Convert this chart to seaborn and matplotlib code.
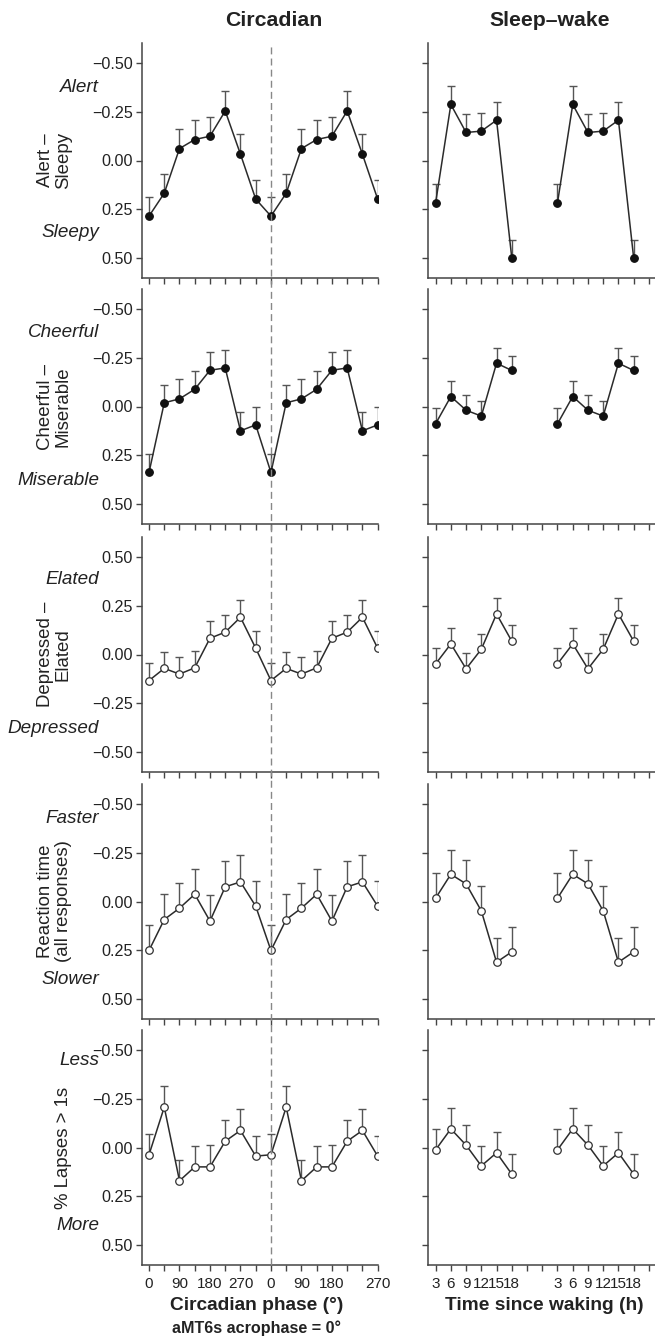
"""
Mood and performance by circadian phase and time awake (double plotted).
"""

import numpy as np
import pandas as pd
import matplotlib
matplotlib.use('Agg')
import matplotlib.pyplot as plt
import matplotlib.transforms as mtransforms
from matplotlib.lines import Line2D
from matplotlib.ticker import FuncFormatter
import seaborn as sns

# ---- data ----
circ_phase = [0, 45, 90, 135, 180, 225, 270, 315]        # degrees
wake_hours = [3, 6, 9, 12, 15, 18]                        # h since waking

alert_circ = [0.284, 0.167, -0.061, -0.107, -0.124, -0.253, -0.032, 0.197]
alert_circ_err = [0.099, 0.099, 0.099, 0.099, 0.099, 0.102, 0.102, 0.097]
alert_wake = [0.216, -0.286, -0.143, -0.150, -0.206, 0.498]
alert_wake_err = [0.094, 0.094, 0.095, 0.095, 0.095, 0.092]

cheer_circ = [0.337, -0.019, -0.039, -0.088, -0.185, -0.197, 0.124, 0.094]
cheer_circ_err = [0.097, 0.092, 0.099, 0.092, 0.092, 0.092, 0.095, 0.092]
cheer_wake = [0.088, -0.051, 0.019, 0.049, -0.221, -0.184]
cheer_wake_err = [0.078, 0.077, 0.079, 0.077, 0.077, 0.076]

elated_circ = [-0.133, -0.071, -0.100, -0.068, 0.083, 0.114, 0.190, 0.032]
elated_circ_err = [0.089, 0.086, 0.085, 0.087, 0.087, 0.088, 0.090, 0.087]
elated_wake = [-0.048, 0.054, -0.073, 0.027, 0.207, 0.068]
elated_wake_err = [0.080, 0.080, 0.081, 0.080, 0.082, 0.082]

rt_circ = [0.250, 0.092, 0.034, -0.037, 0.100, -0.075, -0.100, 0.024]
rt_circ_err = [0.131, 0.129, 0.131, 0.131, 0.134, 0.132, 0.135, 0.129]
rt_wake = [-0.017, -0.139, -0.090, 0.048, 0.310, 0.257]
rt_wake_err = [0.128, 0.125, 0.124, 0.125, 0.126, 0.127]

lapse_circ = [0.037, -0.206, 0.170, 0.099, 0.099, -0.032, -0.087, 0.044]
lapse_circ_err = [0.105, 0.108, 0.107, 0.106, 0.111, 0.107, 0.112, 0.105]
lapse_wake = [0.012, -0.095, -0.012, 0.094, 0.027, 0.136]
lapse_wake_err = [0.104, 0.106, 0.105, 0.104, 0.105, 0.104]

row_labels = ['Alert \u2013\nSleepy', 'Cheerful \u2013\nMiserable',
              'Depressed \u2013\nElated', 'Reaction time\n(all responses)',
              '% Lapses > 1s']
top_words = ['Alert', 'Cheerful', 'Elated', 'Faster', 'Less']
bottom_words = ['Sleepy', 'Miserable', 'Depressed', 'Slower', 'More']
word_pos = [(-0.375, 0.37), (-0.38, 0.378), (0.385, -0.376),
            (-0.422, 0.40), (-0.444, 0.396)]

circ_tick_labels = ['0', '', '90', '', '180', '', '270', '',
                    '0', '', '90', '', '180', '', '', '270']
wake_tick_labels = ['3', '6', '9', '12', '15', '18', '', '',
                    '3', '6', '9', '12', '15', '18', '', '']

rows = [
    (alert_circ, alert_circ_err, alert_wake, alert_wake_err, True, True),
    (cheer_circ, cheer_circ_err, cheer_wake, cheer_wake_err, True, True),
    (elated_circ, elated_circ_err, elated_wake, elated_wake_err, False, False),
    (rt_circ, rt_circ_err, rt_wake, rt_wake_err, True, False),
    (lapse_circ, lapse_circ_err, lapse_wake, lapse_wake_err, True, False),
]

# ---- style ----
sns.set_theme(style='ticks')
plt.rcParams['font.family'] = ['Liberation Sans', 'DejaVu Sans']
plt.rcParams['axes.edgecolor'] = '#444444'
plt.rcParams['xtick.color'] = '#444444'
plt.rcParams['ytick.color'] = '#444444'
plt.rcParams['xtick.labelcolor'] = '#222222'
plt.rcParams['ytick.labelcolor'] = '#222222'

W, H = 655, 1341
fig = plt.figure(figsize=(W / 100, H / 100), dpi=100)

tops = [43, 289, 537, 784, 1030]
ax_h = 235
left_x, left_w = 142, 236
right_x, right_w = 428, 227

LINE_C = '#2b2b2b'
ERR_C = '#555555'


def fmt_val(v, _):
    return f'{v:.2f}'.replace('-', '\u2212')


def draw(ax, xs, ys, errs, block, inverted, filled):
    xs = np.asarray(xs, float)
    ys = np.asarray(ys, float)
    errs = np.asarray(errs, float)
    zero = np.zeros_like(errs)
    yerr = [errs, zero] if inverted else [zero, errs]
    ax.errorbar(xs, ys, yerr=yerr, fmt='none', ecolor=ERR_C, elinewidth=1.0,
                capsize=2.6, capthick=1.0, zorder=2)
    df = pd.DataFrame({'x': xs, 'y': ys, 'block': block})
    sns.lineplot(data=df, x='x', y='y', units='block', estimator=None,
                 color=LINE_C, lw=1.1, marker='o', ms=5.4,
                 markerfacecolor='#111111' if filled else 'white',
                 markeredgecolor='#111111' if filled else '#333333',
                 markeredgewidth=0.9, ax=ax, zorder=3, legend=False)


circ_x = np.concatenate([circ_phase, np.array(circ_phase) + 360])
wake_x = np.concatenate([wake_hours, np.array(wake_hours) + 24])
circ_ticks = np.arange(0, 676, 45)
wake_ticks = np.arange(3, 46, 3)

left_axes = []
for i, (cv, ce, wv, we, inverted, filled) in enumerate(rows):
    bottom = (H - tops[i] - ax_h) / H
    axl = fig.add_axes([left_x / W, bottom, left_w / W, ax_h / H])
    axr = fig.add_axes([right_x / W, bottom, right_w / W, ax_h / H])
    left_axes.append(axl)

    draw(axl, circ_x, cv + cv, ce + ce, [0] * 16, inverted, filled)
    draw(axr, wake_x, wv + wv, we + we, [0] * 6 + [1] * 6, inverted, filled)

    for ax in (axl, axr):
        sns.despine(ax=ax)
        ax.set_ylim((0.6, -0.6) if inverted else (-0.6, 0.6))
        ax.set_yticks([-0.5, -0.25, 0, 0.25, 0.5])
        ax.yaxis.set_major_formatter(FuncFormatter(fmt_val))
        ax.set_xlabel('')
        ax.set_ylabel('')
        ax.tick_params(axis='both', direction='out', length=4, width=1.0,
                       labelsize=11.6, pad=2.5)
        ax.tick_params(axis='x', pad=5, labelsize=11)
        for s in ('left', 'bottom'):
            ax.spines[s].set_linewidth(1.1)

    axl.set_xlim(-20.7, 676)
    axl.set_xticks(circ_ticks)
    axl.set_xticklabels(circ_tick_labels)
    axl.spines['bottom'].set_bounds(-20.7, 675)
    axr.set_xlim(1.5, 46.2)
    axr.set_xticks(wake_ticks)
    axr.set_xticklabels(wake_tick_labels[:len(wake_ticks)])
    axr.tick_params(axis='y', labelleft=False)
    if i < 4:
        axl.tick_params(axis='x', labelbottom=False)
        axr.tick_params(axis='x', labelbottom=False)

    # row label and italic anchors
    axl.text(-0.297, 0.5, row_labels[i], transform=axl.transAxes,
             rotation=90, ha='right', va='center', multialignment='center',
             fontsize=13.4, linespacing=1.05, color='#222222')
    tr = mtransforms.blended_transform_factory(axl.transAxes, axl.transData)
    axl.text(-0.182, word_pos[i][0], top_words[i], transform=tr,
             ha='right', va='center', style='italic', fontsize=13.6,
             color='#222222')
    axl.text(-0.182, word_pos[i][1], bottom_words[i], transform=tr,
             ha='right', va='center', style='italic', fontsize=13.6,
             color='#222222')

# dashed line at the acrophase, spanning all rows
ax0 = left_axes[0]
dash_tr = mtransforms.blended_transform_factory(ax0.transData, fig.transFigure)
fig.add_artist(Line2D([360, 360], [(H - 1265) / H, (H - 43) / H],
                      transform=dash_tr, color='#888888', lw=1.0,
                      dashes=(5, 3), zorder=1))

# titles and axis labels
fig.text(274 / W, 1 - 21 / H, 'Circadian', ha='center', va='center',
         fontsize=15.3, fontweight='bold', color='#222222')
fig.text(550 / W, 1 - 21 / H, 'Sleep\u2013wake', ha='center', va='center',
         fontsize=15.3, fontweight='bold', color='#222222')
fig.text(257 / W, 1 - 1305 / H, 'Circadian phase (\u00b0)', ha='center',
         va='center', fontsize=13.8, fontweight='bold', color='#222222')
fig.text(257 / W, 1 - 1328 / H, 'aMT6s acrophase = 0\u00b0', ha='center',
         va='center', fontsize=11.6, fontweight='bold', color='#222222')
fig.text(544 / W, 1 - 1305 / H, 'Time since waking (h)', ha='center',
         va='center', fontsize=13.8, fontweight='bold', color='#222222')

fig.savefig('out.png', dpi=100)
